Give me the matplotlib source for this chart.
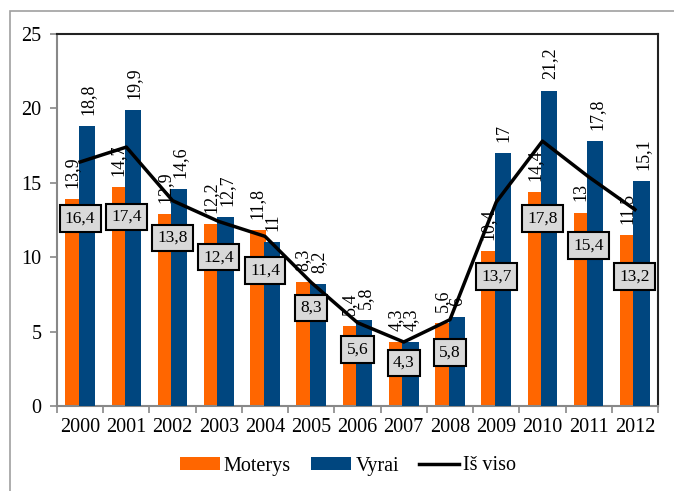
import matplotlib
matplotlib.use("Agg")
import matplotlib.pyplot as plt
from matplotlib.lines import Line2D
from matplotlib.patches import Patch, Rectangle
import numpy as np

years = ["2000", "2001", "2002", "2003", "2004", "2005", "2006",
         "2007", "2008", "2009", "2010", "2011", "2012"]
moterys = [13.9, 14.7, 12.9, 12.2, 11.8, 8.3, 5.4, 4.3, 5.6, 10.4, 14.4, 13, 11.5]
vyrai = [18.8, 19.9, 14.6, 12.7, 11, 8.2, 5.8, 4.3, 6, 17, 21.2, 17.8, 15.1]
is_viso = [16.4, 17.4, 13.8, 12.4, 11.4, 8.3, 5.6, 4.3, 5.8, 13.7, 17.8, 15.4, 13.2]
# label box positions (y in data units)
box_y = [12.6, 12.7, 11.3, 10.0, 9.1, 6.6, 3.8, 2.9, 3.6, 8.7, 12.6, 10.8, 8.7]

ORANGE = "#FF6600"
BLUE = "#00467F"

plt.rcParams['font.family'] = ['Liberation Serif', 'DejaVu Serif']

fig = plt.figure(figsize=(6.74, 4.91), dpi=100)
# outer frame
fig.patches.append(Rectangle((10/674, -0.1), 1.2, 1 - 11/491 + 0.1,
                             transform=fig.transFigure, fill=False,
                             edgecolor="#A0A0A0", lw=1.2))
ax = fig.add_axes([57/674, 1-406/491, (658-57)/674, (406-34)/491])

x = np.arange(len(years))
w = 0.35
ax.bar(x - 0.145, moterys, w, color=ORANGE, zorder=2)
ax.bar(x + 0.145, vyrai, w, color=BLUE, zorder=3)
ax.plot(x, is_viso, color="black", lw=2.5, zorder=4)

def fmt(v):
    return ("%g" % v).replace(".", ",")

for xi, v in zip(x, moterys):
    ax.annotate(fmt(v), (xi - 0.17, v), xytext=(0, 8), textcoords="offset points",
                rotation=90, ha="center", va="bottom", fontsize=13, zorder=5)
for xi, v in zip(x, vyrai):
    ax.annotate(fmt(v), (xi + 0.17, v), xytext=(0, 8), textcoords="offset points",
                rotation=90, ha="center", va="bottom", fontsize=13, zorder=5)
for xi, v, by in zip(x, is_viso, box_y):
    ax.text(xi, by, fmt(v), ha="center", va="center", fontsize=12.5, zorder=6,
            bbox=dict(boxstyle="square,pad=0.3", facecolor="#D9D9D9",
                      edgecolor="black", lw=1.5))

ax.set_xlim(-0.5, len(years) - 0.5)
ax.set_ylim(0, 25)
ax.set_yticks([0, 5, 10, 15, 20, 25])
ax.set_xticks(x)
ax.set_xticklabels(years)
ax.set_xticks(np.arange(-0.5, len(years), 1), minor=True)
ax.tick_params(axis="x", which="major", length=0, labelsize=14.5, pad=9)
ax.tick_params(axis="x", which="minor", length=5, color="#888888", width=1.2)
ax.tick_params(axis="y", length=5, color="#888888", width=1.2, labelsize=14.5, pad=6)

for s in ["top", "right"]:
    ax.spines[s].set_color("#222222")
    ax.spines[s].set_linewidth(1.5)
for s in ["left", "bottom"]:
    ax.spines[s].set_color("#888888")
    ax.spines[s].set_linewidth(1.5)

handles = [Patch(facecolor=ORANGE, label="Moterys"),
           Patch(facecolor=BLUE, label="Vyrai"),
           Line2D([0], [0], color="black", lw=2.5, label="Iš viso")]
fig.legend(handles=handles, loc="center", bbox_to_anchor=(348/674, 1-466/491),
           ncol=3, frameon=False, fontsize=14.5, handlelength=2.0,
           handleheight=0.6, columnspacing=1.0, handletextpad=0.2)

fig.savefig("out.png", dpi=100)
